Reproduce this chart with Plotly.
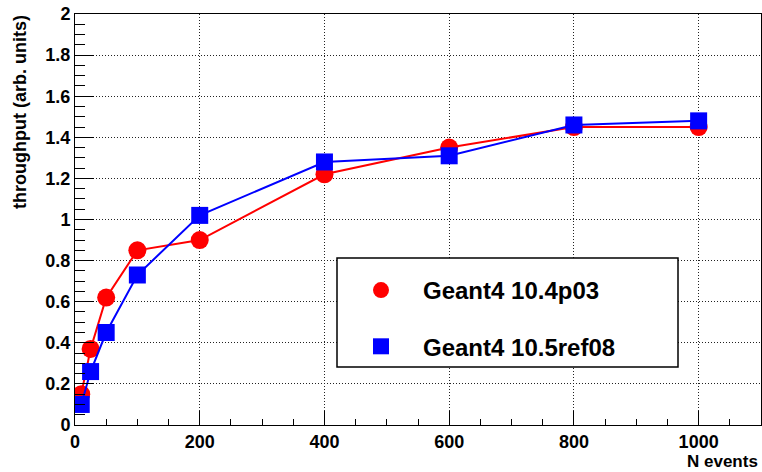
import plotly.graph_objects as go

n_events = [10, 25, 50, 100, 200, 400, 600, 800, 1000]
thr_104p03 = [0.15, 0.37, 0.62, 0.85, 0.90, 1.22, 1.35, 1.45, 1.45]
thr_105ref08 = [0.10, 0.26, 0.45, 0.73, 1.02, 1.28, 1.31, 1.46, 1.48]
name_a = "Geant4 10.4p03"
name_b = "Geant4 10.5ref08"

FONT = "Liberation Sans, Arial, Helvetica, sans-serif"

W, H = 762, 472
L, T, R, B = 75, 14, 1, 47
PW, PH = W - L - R, H - T - B

fig = go.Figure()
fig.add_trace(go.Scatter(x=n_events, y=thr_104p03, mode="lines+markers",
                         line=dict(color="#ff0000", width=2),
                         marker=dict(symbol="circle", size=18, color="#ff0000"),
                         showlegend=False))
fig.add_trace(go.Scatter(x=n_events, y=thr_105ref08, mode="lines+markers",
                         line=dict(color="#0000ff", width=2),
                         marker=dict(symbol="square", size=17, color="#0000ff"),
                         showlegend=False))
# legend-only entries (marker only, like the ROOT legend)
fig.add_trace(go.Scatter(x=[None], y=[None], mode="markers", name=name_a,
                         marker=dict(symbol="circle", size=18, color="#ff0000"),
                         legendgroup="a"))
fig.add_trace(go.Scatter(x=[None], y=[None], mode="markers", name=name_b,
                         marker=dict(symbol="square", size=17, color="#0000ff"),
                         legendgroup="b"))

axis_common = dict(
    showline=True, linecolor="black", linewidth=1, mirror=True,
    ticks="inside", tickcolor="black", tickwidth=1,
    showgrid=True, gridcolor="#222222", griddash="1px,2px", gridwidth=1,
    zeroline=False,
    tickfont=dict(family=FONT, size=18, color="black", weight="bold"),
)

fig.update_xaxes(range=[0, 1100], tickvals=[0, 200, 400, 600, 800, 1000],
                 ticklen=14,
                 minor=dict(ticks="inside", ticklen=6, dtick=50, tick0=0,
                            tickcolor="black", showgrid=False),
                 **axis_common)
fig.update_yaxes(range=[0, 2], ticklen=19,
                 tickvals=[0, 0.2, 0.4, 0.6, 0.8, 1.0, 1.2, 1.4, 1.6, 1.8, 2.0],
                 ticktext=["0", "0.2", "0.4", "0.6", "0.8", "1", "1.2", "1.4", "1.6", "1.8", "2"],
                 minor=dict(ticks="inside", ticklen=10, dtick=0.05, tick0=0,
                            tickcolor="black", showgrid=False),
                 **axis_common)

def px_x(p):  # window pixel -> paper x
    return (p - L) / PW

def px_y(p):  # window pixel -> paper y
    return (H - B - p) / PH

fig.update_layout(
    width=W, height=H,
    margin=dict(l=L, r=R, t=T, b=B, autoexpand=False),
    paper_bgcolor="white", plot_bgcolor="white",
    font=dict(family=FONT, color="black"),
    legend=dict(x=px_x(339), y=px_y(268), xanchor="left", yanchor="top",
                bgcolor="rgba(0,0,0,0)", borderwidth=0,
                font=dict(family=FONT, size=24, color="black", weight="bold"),
                itemwidth=74, tracegroupgap=22),
    shapes=[dict(type="rect", xref="paper", yref="paper",
                 x0=px_x(337), x1=px_x(678),
                 y0=px_y(367), y1=px_y(258),
                 line=dict(color="black", width=1.5), fillcolor="white",
                 layer="above")],
    annotations=[
        dict(text="throughput (arb. units)", textangle=-90, xref="paper", yref="paper",
             x=px_x(20), y=px_y(13), xanchor="center", yanchor="top", showarrow=False,
             font=dict(family=FONT, size=18, color="black", weight="bold")),
        dict(text="N events", xref="paper", yref="paper",
             x=px_x(760), y=px_y(450), xanchor="right", yanchor="top", showarrow=False,
             font=dict(family=FONT, size=17, color="black", weight="bold")),
    ],
)

fig.write_html("out.html", config={"displayModeBar": False},
               post_script="document.body.style.margin='0px';")
